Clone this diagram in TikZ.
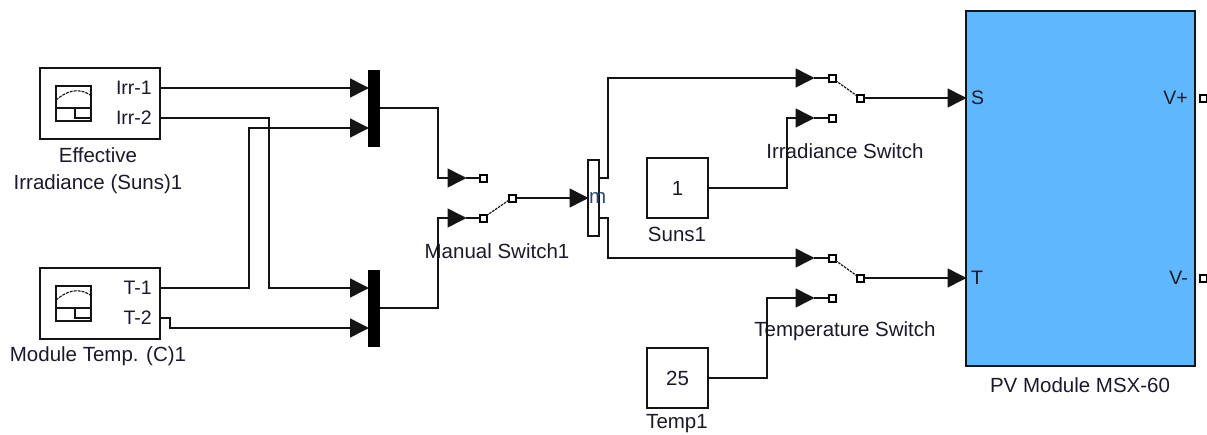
\documentclass[tikz,border=0pt]{standalone}
\usepackage{xcolor}
\usepackage{fontspec}
\setmainfont{Liberation Sans}
\usepackage{tikz}
\usetikzlibrary{arrows.meta,positioning,calc}
\definecolor{ink}{HTML}{1A1A2A}
\definecolor{wire}{HTML}{141414}
\definecolor{pvblue}{HTML}{5FB8FD}
\definecolor{portblue}{HTML}{2A4A78}
\tikzset{
  block/.style={rectangle, draw=wire, fill=white, line width=1.4pt, outer sep=0pt, inner sep=0pt},
  barblack/.style={rectangle, draw=black, fill=black, line width=0.6pt, minimum width=11pt, minimum height=76pt, outer sep=0pt, inner sep=0pt},
  barwhite/.style={block, minimum width=11pt, minimum height=76pt},
  pvbox/.style={block, fill=pvblue, minimum width=229pt, minimum height=355pt},
  srcbox/.style={block, minimum width=120pt, minimum height=71pt},
  constbox/.style={block, minimum width=61pt, minimum height=60pt},
  lbl/.style={font=\fontsize{20.5}{27}\selectfont, text=ink, align=center, inner sep=0pt},
  portlbl/.style={lbl, font=\fontsize{19.5}{24}\selectfont, anchor=east},
  pin/.style={rectangle, draw=black, fill=white, line width=2pt, minimum size=7pt, inner sep=0pt, outer sep=0pt},
  flow/.style={-{Triangle[length=19pt,width=19pt]}, draw=wire, line width=1.5pt, shorten >=-0.5pt},
  wireline/.style={draw=wire, line width=1.5pt},
  arm/.style={draw=wire, line width=1.2pt, dash pattern=on 2.5pt off 1pt},
  scopeline/.style={draw=wire, line width=1.1pt}
}
\begin{document}
\begin{tikzpicture}[x=1pt,y=-1pt]
\useasboundingbox (0,0) rectangle (1207,434);
% source blocks
\node[srcbox] (srcirr) at (100,103.5) {};
\node[srcbox] (srctemp) at (100,303.5) {};
\node[lbl] (srcirrname) at (98,171) {Effective\\Irradiance (Suns)1};
\node[lbl] (srctempname) at (98,356.5) {Module Temp. (C)1};
\node[portlbl] (irrone) at (152,88) {Irr-1};
\node[portlbl] (irrtwo) at (152,118) {Irr-2};
\node[portlbl] (tone) at (152,288) {T-1};
\node[portlbl] (ttwo) at (152,318) {T-2};
% little scope icons
\node[block, minimum width=35pt, minimum height=35pt, line width=1.1pt] (iconirr) at (73.5,103.5) {};
\node[block, minimum width=35pt, minimum height=35pt, line width=1.1pt] (icontemp) at (73.5,303.5) {};
\foreach \ic in {iconirr,icontemp}{
  \draw[scopeline] ($(\ic.west)+(0,4.5)$) -- ($(\ic.east)+(0,4.5)$);
  \draw[scopeline, dash pattern=on 3pt off 1pt] ($(\ic.west)+(0,-3.5)$) .. controls ($(\ic.west)+(10,-12)$) and ($(\ic.west)+(22,-17)$) .. ($(\ic.east)+(0,-8)$);
  \draw[scopeline] ($(\ic.west)+(19,4.5)$) -- ($(\ic.west)+(19,14.5)$) -- ($(\ic.east)+(0,14.5)$);
}
% mux and demux bars
\node[barblack] (muxirr) at (374,108) {};
\node[barblack] (muxtemp) at (374,308) {};
\node[barwhite] (demux) at (593.5,198) {};
\node[lbl, text=portblue, anchor=west] (demuxport) at (589,198) {m};
% constants
\node[constbox] (suns) at (677.5,188) {};
\node[lbl] at (suns.center) {1};
\node[lbl] (sunsname) at (677,234) {Suns1};
\node[constbox] (temp) at (677.5,378) {};
\node[lbl] at (temp.center) {25};
\node[lbl] (tempname) at (677,424) {Temp1};
% pv module
\node[pvbox] (pv) at (1080.5,188.5) {};
\node[lbl] (pvname) at (1080,385) {PV Module MSX-60};
\node[portlbl, anchor=west] (pvs) at (971,98) {S};
\node[portlbl, anchor=west] (pvt) at (971,278) {T};
\node[portlbl] (pvvp) at (1188,98) {V+};
\node[portlbl] (pvvm) at (1188,278) {V-};
\node[pin] (outvp) at (1203,98) {};
\node[pin] (outvm) at (1203,278) {};
% switch pins
\node[pin] (manup) at (483,178) {};
\node[pin] (manlow) at (483,218) {};
\node[pin] (manout) at (512,198) {};
\node[pin] (irrup) at (832,78) {};
\node[pin] (irrlow) at (832,118) {};
\node[pin] (irrout) at (860,98) {};
\node[pin] (tempup) at (832,258) {};
\node[pin] (templow) at (832,298) {};
\node[pin] (tempout) at (860,278) {};
\node[lbl] (manname) at (497,251) {Manual Switch1};
\node[lbl] (irrname) at (845,151) {Irradiance Switch};
\node[lbl] (tempswname) at (845,331) {Temperature Switch};
% switch arms
\draw[arm] (manlow) -- (manout);
\draw[arm] (irrup) -- (irrout);
\draw[arm] (tempup) -- (tempout);
% tips
\coordinate (tipa) at (368.5,88);
\coordinate (tipb) at (368.5,128);
\coordinate (tipc) at (368.5,288);
\coordinate (tipd) at (368.5,328);
\coordinate (tipe) at (466,178);
\coordinate (tipf) at (466,218);
\coordinate (tipg) at (814,78);
\coordinate (tiph) at (814,118);
\coordinate (tipi) at (814,258);
\coordinate (tipj) at (814,298);
% signals
\draw[flow] (srcirr.east |- irrone) -- (tipa);
\draw[flow] (srcirr.east |- irrtwo) -| (269,288) -- (tipc);
\draw[flow] (srctemp.east |- tone) -| (249,128) -- (tipb);
\draw[flow] (srctemp.east |- ttwo) -- (170,318) -- (170,328) -- (tipd);
\draw[flow] (muxirr.east) -| (438,178) -- (tipe);
\draw[flow] (muxtemp.east) -| (438,218) -- (tipf);
\draw[wireline] (tipe) -- (manup);
\draw[wireline] (tipf) -- (manlow);
\draw[flow] (manout) -- (demux.west);
\draw[flow] (demux.east |- manup) -- (608,178) -- (608,78) -- (tipg);
\draw[flow] (demux.east |- manlow) -- (608,218) -- (608,258) -- (tipi);
\draw[flow] (suns.east) -| (787,118) -- (tiph);
\draw[flow] (temp.east) -| (767,298) -- (tipj);
\draw[wireline] (tipg) -- (irrup);
\draw[wireline] (tiph) -- (irrlow);
\draw[wireline] (tipi) -- (tempup);
\draw[wireline] (tipj) -- (templow);
\draw[flow] (irrout) -- (pv.west |- irrout);
\draw[flow] (tempout) -- (pv.west |- tempout);
\end{tikzpicture}
\end{document}
